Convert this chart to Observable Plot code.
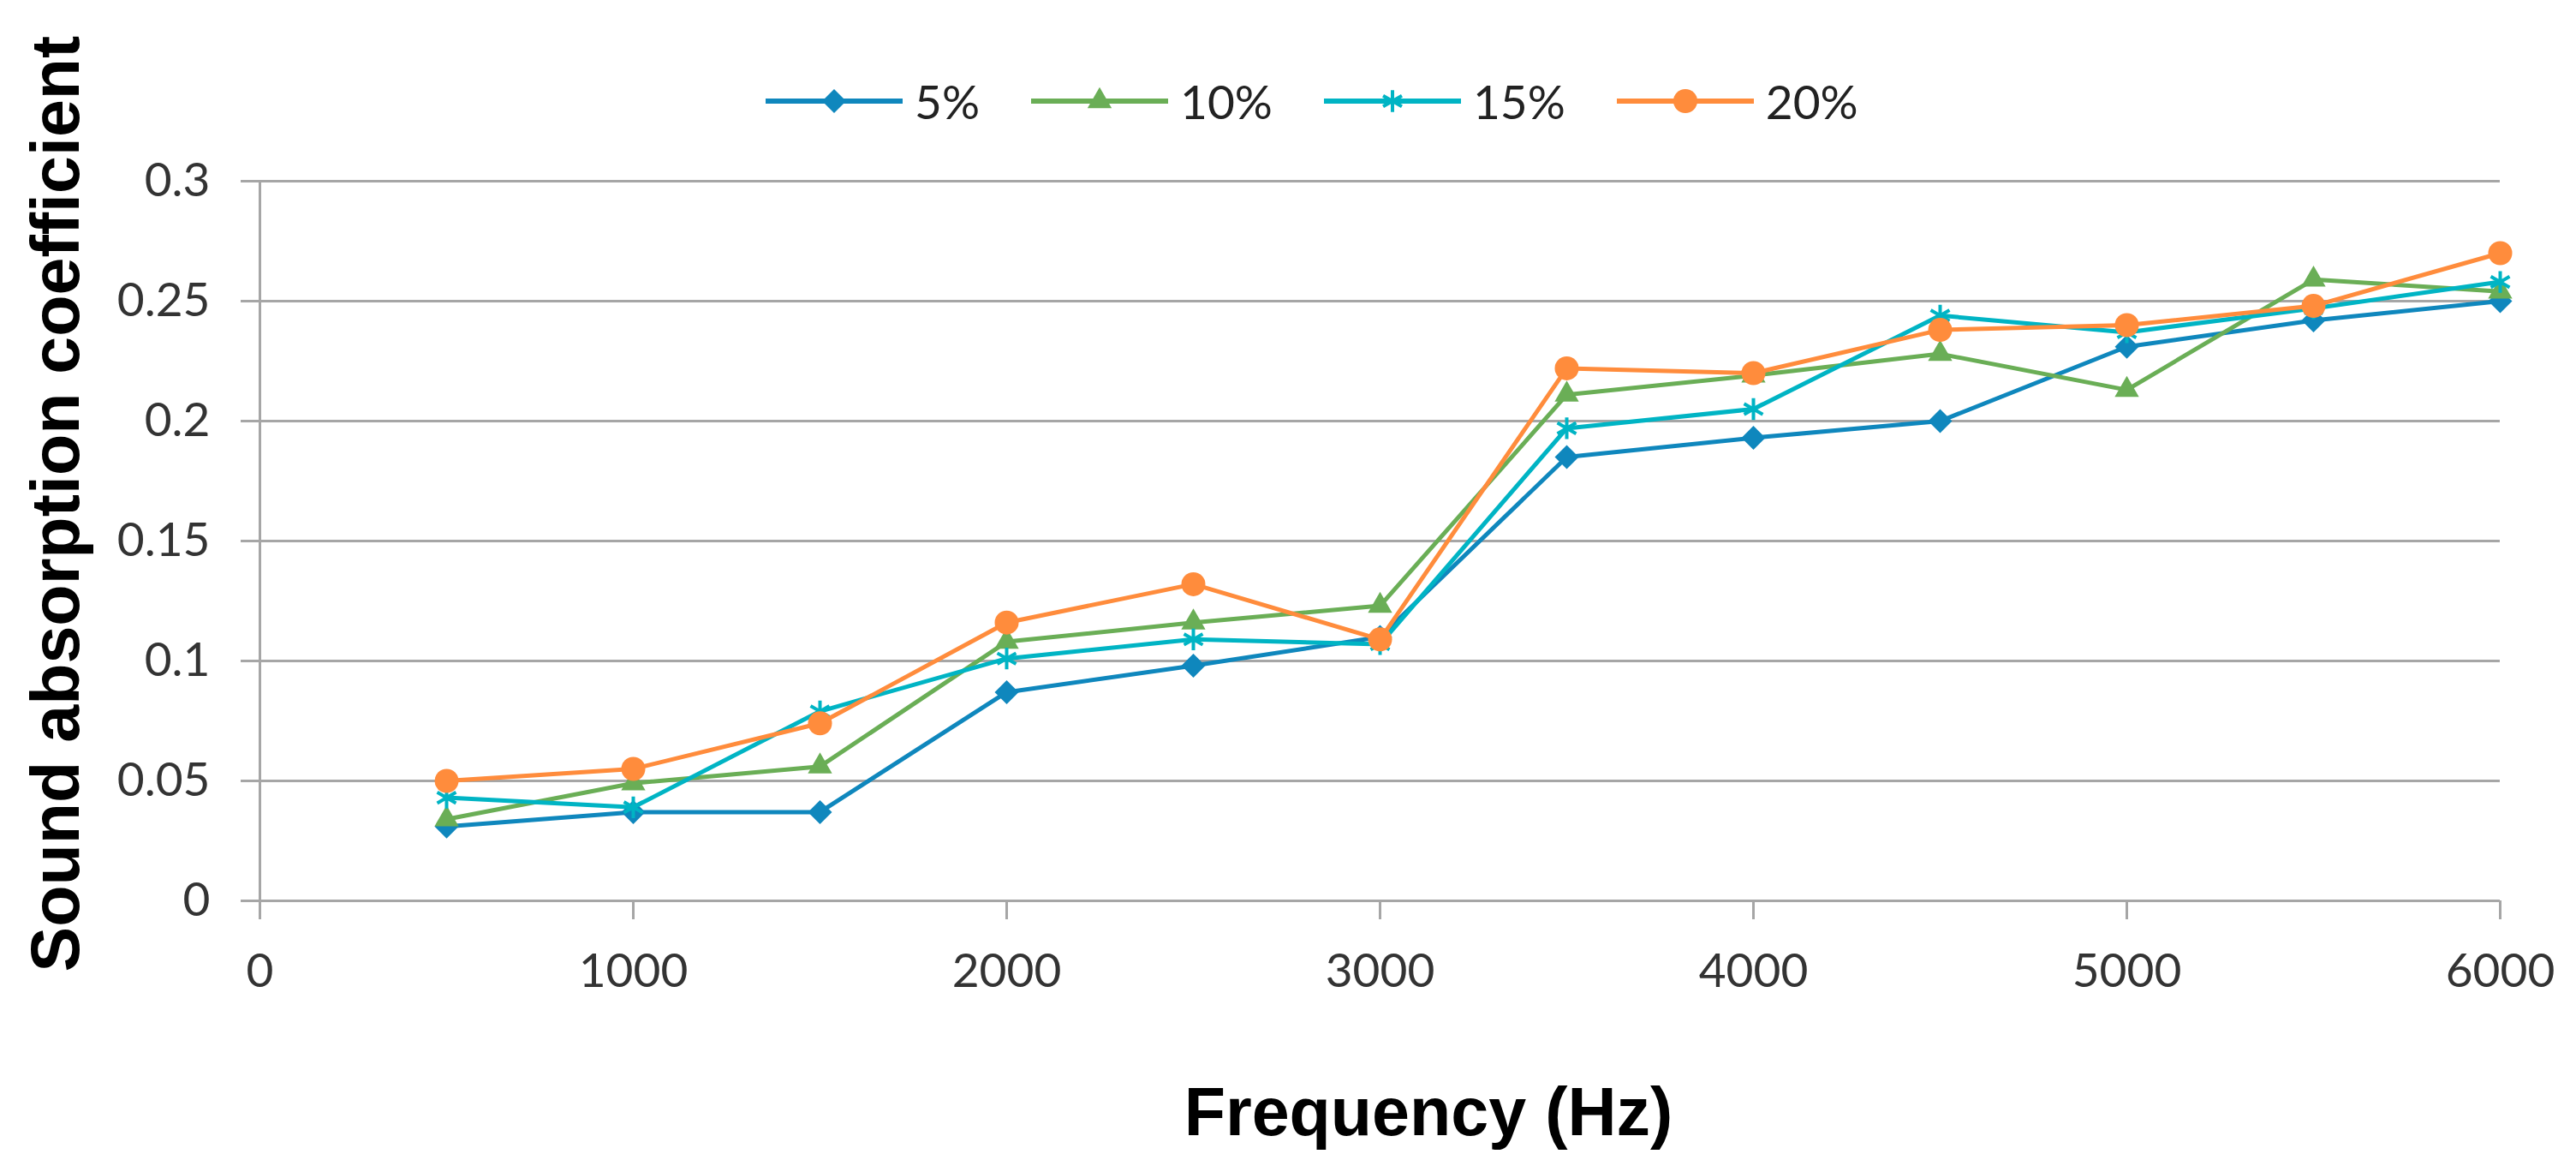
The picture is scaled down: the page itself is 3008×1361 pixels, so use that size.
<!DOCTYPE html>
<html>
<head>
<meta charset="utf-8">
<script src="https://cdn.jsdelivr.net/npm/d3@7"></script>
<script src="https://cdn.jsdelivr.net/npm/@observablehq/plot@0.6"></script>
<style>
  html, body { margin: 0; padding: 0; background: #fff; }
  #wrap { position: relative; width: 3008px; height: 1361px; overflow: hidden; }
  #legend { position: absolute; left: 894px; top: 78px; height: 80px; display: flex; align-items: center;
            font-family: Lato, "Open Sans", sans-serif; font-size: 55px; color: #222; }
  .item { display: flex; align-items: center; margin-right: 60px; }
  .item svg { margin-right: 14px; }
  #chart { position: absolute; left: 0; top: 170px; }
</style>
</head>
<body>
<div id="wrap">
  <div id="legend"></div>
  <div id="chart"></div>
</div>
<script>
// ---- data ----
const frequencies = [500, 1000, 1500, 2000, 2500, 3000, 3500, 4000, 4500, 5000, 5500, 6000];
const series5  = [0.031, 0.037, 0.037, 0.087, 0.098, 0.110, 0.185, 0.193, 0.200, 0.231, 0.242, 0.250];
const series10 = [0.034, 0.049, 0.056, 0.108, 0.116, 0.123, 0.211, 0.219, 0.228, 0.213, 0.259, 0.254];
const series15 = [0.043, 0.039, 0.079, 0.101, 0.109, 0.107, 0.197, 0.205, 0.244, 0.237, 0.247, 0.258];
const series20 = [0.050, 0.055, 0.074, 0.116, 0.132, 0.109, 0.222, 0.220, 0.238, 0.240, 0.248, 0.270];
const seriesNames = ["5%", "10%", "15%", "20%"];
const xTicks = [0, 1000, 2000, 3000, 4000, 5000, 6000];
const yTicks = [0, 0.05, 0.1, 0.15, 0.2, 0.25, 0.3];
const xLabel = "Frequency (Hz)";
const yLabel = "Sound absorption coefficient";

// ---- styles ----
const colors = ["#0F87BD", "#6AAE56", "#00B4C4", "#FF8C3C"];
const symbols = ["diamond2", "triangle", "asterisk", "circle"];
const radii = [12.6, 10.5, 12, 14];
const d3Symbols = [d3.symbolDiamond2, d3.symbolTriangle, d3.symbolAsterisk, d3.symbolCircle];
const grid = "#A6A6A6";

const allValues = [series5, series10, series15, series20];
const data = seriesNames.flatMap((s, i) =>
  frequencies.map((f, j) => ({series: s, freq: f, value: allValues[i][j]})));

const W = 3008, H = 1191;

const marks = [
  Plot.gridY(yTicks, {stroke: grid, strokeOpacity: 1, strokeWidth: 3}),
  Plot.ruleX([0], {y1: 0, y2: 0.3, stroke: grid, strokeWidth: 3}),
  Plot.axisY({ticks: yTicks, tickSize: 22, tickPadding: 36, stroke: grid, strokeWidth: 3,
              fill: "#333", tickFormat: d => String(d), label: null}),
  Plot.axisX({ticks: xTicks, tickSize: 22, tickPadding: 39, stroke: grid, strokeWidth: 3,
              fill: "#333", tickFormat: d => String(d), label: null})
];
seriesNames.forEach((s, i) => {
  const sub = data.filter(d => d.series === s);
  marks.push(Plot.line(sub, {x: "freq", y: "value", stroke: colors[i], strokeWidth: 5}));
  if (symbols[i] === "asterisk") {
    marks.push(Plot.dot(sub, {x: "freq", y: "value", symbol: symbols[i], r: radii[i],
                              stroke: colors[i], strokeWidth: 4, fill: "none"}));
  } else {
    marks.push(Plot.dot(sub, {x: "freq", y: "value", symbol: symbols[i], r: radii[i],
                              fill: colors[i], stroke: "none"}));
  }
});

const chart = Plot.plot({
  width: W, height: H,
  marginLeft: 303, marginRight: 89, marginTop: 41, marginBottom: 310,
  style: {fontFamily: "Lato, 'Open Sans', sans-serif", fontSize: "55px", background: "#fff", overflow: "visible"},
  x: {domain: [0, 6000]},
  y: {domain: [0, 0.3]},
  marks
});

const svg = d3.select(chart);
svg.append("text")
  .attr("transform", "translate(92,418) rotate(-90)")
  .attr("text-anchor", "middle")
  .attr("font-family", "'Liberation Sans', Arial, sans-serif")
  .attr("font-weight", "bold").attr("font-size", 79).attr("fill", "#000")
  .text(yLabel);
svg.append("text")
  .attr("x", 1668).attr("y", 1155)
  .attr("text-anchor", "middle")
  .attr("font-family", "'Liberation Sans', Arial, sans-serif")
  .attr("font-weight", "bold").attr("font-size", 79).attr("fill", "#000")
  .text(xLabel);

document.getElementById("chart").appendChild(chart);

// ---- legend ----
const legend = d3.select("#legend");
seriesNames.forEach((s, i) => {
  const item = legend.append("div").attr("class", "item");
  const sw = item.append("svg").attr("width", 160).attr("height", 40);
  sw.append("line").attr("x1", 0).attr("x2", 160).attr("y1", 20).attr("y2", 20)
    .attr("stroke", colors[i]).attr("stroke-width", 6);
  const p = sw.append("path").attr("transform", "translate(80,20)")
    .attr("d", d3.symbol(d3Symbols[i], Math.PI * radii[i] * radii[i])());
  if (symbols[i] === "asterisk") p.attr("stroke", colors[i]).attr("stroke-width", 4).attr("fill", "none");
  else p.attr("fill", colors[i]);
  item.append("span").text(s);
});
</script>
</body>
</html>
